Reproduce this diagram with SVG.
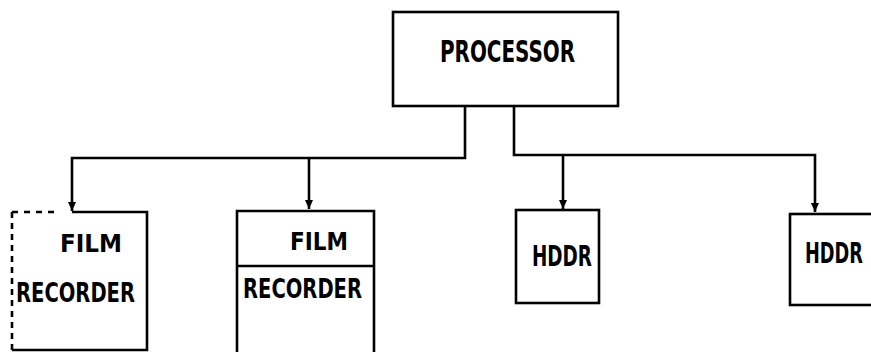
<svg xmlns="http://www.w3.org/2000/svg" width="871" height="352" viewBox="0 0 871 352">
<defs>
<marker id="arr" markerWidth="10" markerHeight="10" refX="9" refY="5" orient="auto" markerUnits="userSpaceOnUse" viewBox="0 0 10 10">
<path d="M0,1 L9,5 L0,9 Z" fill="#000"/>
</marker>
</defs>
<style>
.box{fill:#fff;stroke:#000;stroke-width:2.6}
.ln{fill:none;stroke:#000;stroke-width:2.6}
.t{font-family:"DejaVu Sans Condensed","DejaVu Sans",sans-serif;font-stretch:condensed;font-weight:bold;fill:#000}
</style>
<rect width="871" height="352" fill="#fff"/>
<g id="connectors">
<path class="ln" d="M465,106 L465,158 L72,158 L72,211" marker-end="url(#arr)"/>
<path class="ln" d="M309,158 L309,209" marker-end="url(#arr)"/>
<path class="ln" d="M514,106 L514,155 L815,155 L815,212" marker-end="url(#arr)"/>
<path class="ln" d="M563,155 L563,209" marker-end="url(#arr)"/>
</g>
<g id="processor">
<rect class="box" x="393" y="12" width="225" height="94"/>
<text class="t" x="440" y="62" font-size="31" textLength="135" lengthAdjust="spacingAndGlyphs">PROCESSOR</text>
</g>
<g id="film1">
<path class="ln" d="M12,212 L12,350" stroke-dasharray="6,5"/>
<path class="ln" d="M12,212 L60,212" stroke-dasharray="6,6"/>
<path class="ln" d="M72,212 L147,212 L147,350 L12,350"/>
<text class="t" x="60" y="252" font-size="25" textLength="62" lengthAdjust="spacingAndGlyphs">FILM</text>
<text class="t" x="16" y="302" font-size="26" textLength="119" lengthAdjust="spacingAndGlyphs">RECORDER</text>
</g>
<g id="film2">
<path class="ln" d="M237,352 L237,211 L374,211 L374,352"/>
<line class="ln" x1="237" y1="266" x2="374" y2="266"/>
<text class="t" x="290" y="250" font-size="25" textLength="58" lengthAdjust="spacingAndGlyphs">FILM</text>
<text class="t" x="243" y="298" font-size="26" textLength="119" lengthAdjust="spacingAndGlyphs">RECORDER</text>
</g>
<g id="hddr1">
<rect class="box" x="516" y="210" width="83" height="93"/>
<text class="t" x="532" y="266" font-size="28" textLength="60" lengthAdjust="spacingAndGlyphs">HDDR</text>
</g>
<g id="hddr2">
<rect class="box" x="790" y="214" width="100" height="91"/>
<text class="t" x="805" y="263" font-size="28" textLength="58" lengthAdjust="spacingAndGlyphs">HDDR</text>
</g>
</svg>
